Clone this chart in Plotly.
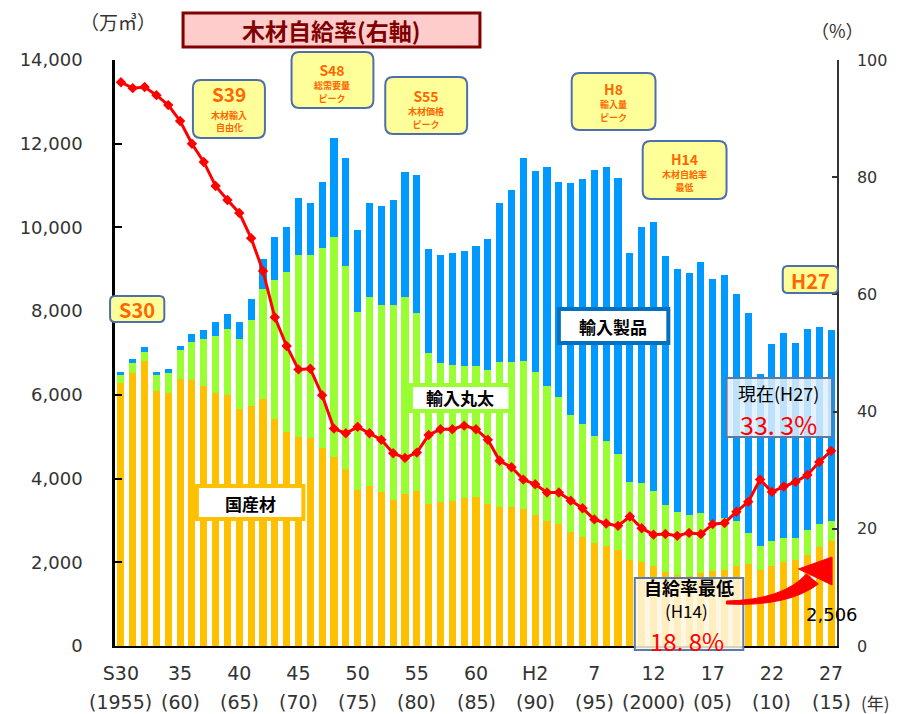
import plotly.graph_objects as go

# ---------------- data (万m3 / %) ----------------
years = list(range(1955, 2016))

domestic = [6290, 6530, 6810, 6100, 6040, 6380, 6350, 6210, 6040, 6000,
            5660, 5740, 5890, 5420, 5120, 4990, 4970, 4740, 4510, 4230,
            3730, 3830, 3690, 3500, 3630, 3700, 3390, 3450, 3470, 3530,
            3550, 3390, 3320, 3320, 3270, 3130, 2990, 2920, 2730, 2600,
            2450, 2400, 2290, 2050, 2010, 1900, 1770, 1700, 1670, 1740,
            1790, 1820, 1920, 1960, 1820, 1900, 2010, 2050, 2170, 2360,
            2506]

imported_logs = [180, 220, 220, 370, 490, 680, 920, 1120, 1370, 1580,
                 1670, 2040, 2630, 3330, 3820, 4340, 4380, 4780, 5250, 4860,
                 4250, 4510, 4450, 4640, 4710, 4250, 3620, 3300, 3240, 3160,
                 3140, 3200, 3460, 3460, 3540, 3420, 3220, 3030, 2790, 2710,
                 2560, 2500, 2290, 1870, 1880, 1810, 1590, 1500, 1460, 1430,
                 1200, 1230, 1070, 730, 580, 600, 560, 520, 600, 550,
                 480]

imported_products = [80, 100, 120, 70, 80, 110, 180, 220, 340, 360,
                     400, 510, 720, 1010, 1080, 1370, 1240, 1560, 2370, 2580,
                     1960, 2250, 2370, 2520, 2980, 3310, 2480, 2580, 2690, 2740,
                     2870, 3130, 3810, 4120, 4840, 4800, 5230, 5140, 5540, 5840,
                     6370, 6540, 6590, 5480, 6110, 6420, 5960, 5800, 5780, 6000,
                     5770, 5810, 5410, 5270, 4100, 4720, 4900, 4670, 4800, 4700,
                     4560]

self_sufficiency = [96.2, 95.2, 95.4, 94.0, 92.3, 89.6, 85.7, 82.6, 78.5, 76.1,
                    73.9, 69.6, 64.0, 56.1, 51.2, 47.2, 47.3, 42.8, 37.1, 36.3,
                    37.4, 36.3, 35.2, 32.9, 32.1, 33.0, 36.0, 37.0, 37.0, 37.6,
                    37.0, 35.2, 31.6, 30.5, 28.4, 27.6, 26.2, 26.2, 24.8, 23.5,
                    21.6, 20.9, 20.5, 22.1, 20.1, 19.0, 19.1, 18.8, 19.3, 19.1,
                    20.8, 21.0, 22.9, 24.6, 28.4, 26.3, 27.2, 28.0, 29.2, 31.4,
                    33.3]

tick_years = [1955, 1960, 1965, 1970, 1975, 1980, 1985, 1990, 1995, 2000, 2005, 2010, 2015]
tick_era = ["S30", "35", "40", "45", "50", "55", "60", "H2", "7", "12", "17", "22", "27"]
tick_ad = ["(1955)", "(60)", "(65)", "(70)", "(75)", "(80)", "(85)", "(90)", "(95)",
           "(2000)", "(05)", "(10)", "(15)"]

FONT = "Noto Sans CJK JP"
NUMFONT = "DejaVu Sans"
ORANGE_TXT = "#FF6600"
GRAY = "#333333"

# ---------------- layout geometry (window pixels) ----------------
OFF = 8                     # page body margin
W, H = 899 - OFF, 714 - OFF
PL, PR, PT, PB = 113, 845, 60, 646


def px(x):
    return (x - PL) / (PR - PL)


def py(y):
    return (PB - y) / (PB - PT)


fig = go.Figure()
fig.add_trace(go.Bar(x=years, y=domestic, name="国産材",
                     marker=dict(color="#FFC000", line=dict(width=0))))
fig.add_trace(go.Bar(x=years, y=imported_logs, name="輸入丸太",
                     marker=dict(color="#99FF33", line=dict(width=0))))
fig.add_trace(go.Bar(x=years, y=imported_products, name="輸入製品",
                     marker=dict(color="#0099FF", line=dict(width=0))))
fig.add_trace(go.Scatter(x=years, y=self_sufficiency, yaxis="y2", name="木材自給率",
                         mode="lines+markers",
                         line=dict(color="#FF0000", width=3),
                         marker=dict(symbol="diamond", size=8, color="#FF0000")))

fig.update_layout(
    width=W, height=H,
    margin=dict(l=PL - OFF, r=W - (PR - OFF), t=PT - OFF, b=H - (PB - OFF)),
    barmode="stack", bargap=0.4,
    plot_bgcolor="white", paper_bgcolor="white",
    showlegend=False,
    font=dict(family=FONT, color=GRAY),
    xaxis=dict(range=[1954.5, 2015.5], tickvals=tick_years, ticktext=tick_era,
               showline=True, linecolor="black", linewidth=2, ticks="",
               showgrid=False, zeroline=False,
               tickfont=dict(family=NUMFONT, size=19, color=GRAY), ticklabelstandoff=9),
    yaxis=dict(range=[0, 14000], dtick=2000, tickformat=",d",
               showline=True, linecolor="black", linewidth=2.5,
               ticks="inside", ticklen=7, tickwidth=2, tickcolor="black",
               showgrid=False, zeroline=False,
               tickfont=dict(family=NUMFONT, size=18, color=GRAY), ticklabelstandoff=26),
    yaxis2=dict(range=[0, 100], dtick=20, overlaying="y", side="right",
                showline=True, linecolor=GRAY, linewidth=1.5,
                ticks="inside", ticklen=5, tickwidth=1.5, tickcolor=GRAY,
                showgrid=False, zeroline=False,
                tickfont=dict(family=NUMFONT, size=16, color=GRAY), ticklabelstandoff=15),
)

shapes = []
annotations = []


def rect(x0, y0, x1, y1, fill, line_color, lw):
    shapes.append(dict(type="rect", xref="paper", yref="paper",
                       x0=px(x0), x1=px(x1), y0=py(y1), y1=py(y0),
                       fillcolor=fill, line=dict(color=line_color, width=lw)))


def rrect(x0, y0, x1, y1, r, fill, line_color, lw):
    rx = r / (PR - PL)
    ry = r / (PB - PT)
    X0, X1, YT, YB = px(x0), px(x1), py(y0), py(y1)
    path = (f"M {X0 + rx},{YT} L {X1 - rx},{YT} Q {X1},{YT} {X1},{YT - ry} "
            f"L {X1},{YB + ry} Q {X1},{YB} {X1 - rx},{YB} L {X0 + rx},{YB} "
            f"Q {X0},{YB} {X0},{YB + ry} L {X0},{YT - ry} Q {X0},{YT} {X0 + rx},{YT} Z")
    shapes.append(dict(type="path", xref="paper", yref="paper", path=path,
                       fillcolor=fill, line=dict(color=line_color, width=lw)))


def text(x, y, s, size, color="#000000", bold=False, xanchor="center", family=FONT):
    annotations.append(dict(xref="paper", yref="paper", x=px(x), y=py(y),
                            text=f"<b>{s}</b>" if bold else s, showarrow=False,
                            xanchor=xanchor, yanchor="middle",
                            font=dict(family=family, size=size, color=color)))


def box_text(x, y_lines, lines):
    """several lines inside one yellow box, as one annotation"""
    parts = []
    for s, size in lines:
        parts.append(f"<span style='font-size:{size}px'><b>{s}</b></span>")
    annotations.append(dict(xref="paper", yref="paper", x=px(x), y=py(y_lines),
                            text="<br>".join(parts), showarrow=False,
                            xanchor="center", yanchor="middle",
                            font=dict(family=FONT, size=10, color=ORANGE_TXT)))


# title box
rect(182, 13, 483, 47, "#FFCCCC", "#800000", 3)
text(332, 30, "木材自給率(右軸)", 23, "#800000", bold=True)

# units
text(116, 22, "（万㎥）", 19, GRAY)
text(845, 30, "（%）", 18, GRAY)

# yellow event boxes
YEL, YBORD = "#FFFF99", "#4F6FAA"
rrect(192, 80, 265, 138, 8, YEL, YBORD, 2)
text(229, 94, "S39", 19, ORANGE_TXT, bold=True)
text(229, 116, "木材輸入", 9, ORANGE_TXT, bold=True)
text(229, 128, "自由化", 9, ORANGE_TXT, bold=True)

rrect(292, 52, 375, 108, 8, YEL, YBORD, 2)
box_text(333, 82, [("S48", 14), ("総需要量", 9), ("ピーク", 9)])

rrect(387, 77, 470, 134, 8, YEL, YBORD, 2)
box_text(428, 108, [("S55", 14), ("木材価格", 9), ("ピーク", 9)])

rrect(576, 73, 661, 130, 8, YEL, YBORD, 2)
box_text(618, 102, [("H8", 14), ("輸入量", 9), ("ピーク", 9)])

rrect(648, 141, 733, 199, 8, YEL, YBORD, 2)
box_text(690, 171, [("H14", 14), ("木材自給率", 9), ("最低", 9)])

rrect(108, 296, 163, 322, 5, YEL, YBORD, 2)
text(135, 309, "S30", 20, ORANGE_TXT, bold=True)

rrect(790, 266, 846, 293, 5, YEL, YBORD, 2)
text(818, 280, "H27", 20, ORANGE_TXT, bold=True)

# series label boxes
rect(563, 309, 674, 343, "white", "#0070C0", 4)
text(618, 326, "輸入製品", 17, "#000000", bold=True)

rect(413, 385, 514, 411, "white", "#99FF33", 4)
text(463, 398, "輸入丸太", 17, "#000000", bold=True)

rect(196, 486, 304, 519, "white", "#FFC000", 4)
text(250, 503, "国産材", 17, "#000000", bold=True)

# current value box
rect(733, 378, 840, 437, "rgba(225,238,252,0.85)", "#5B7AA8", 2)
text(786, 393, "現在(H27)", 18, "#000000")
text(786, 424, "33. 3%", 25, "#FF0000")

# lowest value box
rect(640, 578, 750, 650, "rgba(255,246,225,0.85)", "#5B7AA8", 2)
text(695, 587, "自給率最低", 18, "#000000", bold=True)
text(692, 610, "(H14)", 17, "#000000")
text(693, 640, "18. 8%", 24, "#FF0000")

# 2,506 label
text(840, 614, "2,506", 18, "#000000", family=NUMFONT)

# red curved arrow (tapered body + head)
body = (f"M {px(733)},{py(601)} Q {px(790)},{py(600)} {px(814)},{py(574)} "
        f"L {px(826)},{py(584)} Q {px(795)},{py(607)} {px(733)},{py(604)} Z")
shapes.append(dict(type="path", xref="paper", yref="paper", path=body,
                   fillcolor="#FF0000", line=dict(color="#FF0000", width=1)))
shapes.append(dict(type="path", xref="paper", yref="paper",
                   path=f"M {px(806)},{py(569)} L {px(840)},{py(557)} L {px(840)},{py(585)} Z",
                   fillcolor="#FF0000", line=dict(color="#FF0000", width=1)))

# second row of x labels
for yr, lab in zip(tick_years, tick_ad):
    annotations.append(dict(xref="x", yref="paper", x=yr, y=py(702), text=lab,
                            showarrow=False, xanchor="center", yanchor="middle",
                            font=dict(family=NUMFONT, size=19, color=GRAY)))
text(884, 702, "(年)", 17, GRAY)

fig.update_layout(shapes=shapes, annotations=annotations)

fig.write_html("out.html")
